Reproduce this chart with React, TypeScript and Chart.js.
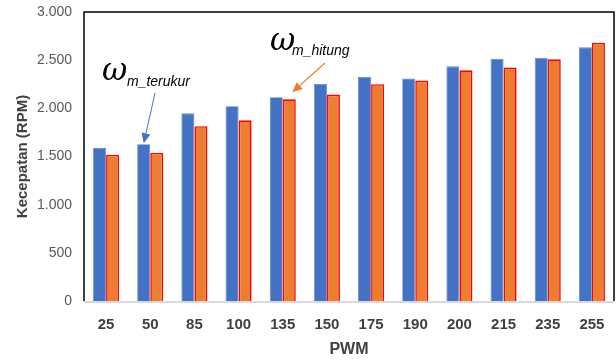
import React, { useEffect, useRef } from "react";
import { Chart, registerables } from "chart.js";

Chart.register(...registerables);

const categories = ["25", "50", "85", "100", "135", "150", "175", "190", "200", "215", "235", "255"];
const terukur = [1590, 1627, 1948, 2021, 2115, 2253, 2326, 2309, 2436, 2516, 2523, 2633];
const hitung = [1518, 1540, 1814, 1876, 2094, 2143, 2250, 2288, 2395, 2423, 2509, 2682];
const yTicks = [0, 500, 1000, 1500, 2000, 2500, 3000];

const fmt = (v: number) => String(v).replace(/\B(?=(\d{3})+(?!\d))/g, ".");

function drawArrow(ctx: CanvasRenderingContext2D, x1: number, y1: number, x2: number, y2: number, color: string, lw: number) {
  const ang = Math.atan2(y2 - y1, x2 - x1);
  const hl = 10, hw = 4.5;
  const bx = x2 - hl * Math.cos(ang), by = y2 - hl * Math.sin(ang);
  ctx.save();
  ctx.strokeStyle = color;
  ctx.fillStyle = color;
  ctx.lineWidth = lw;
  ctx.beginPath();
  ctx.moveTo(x1, y1);
  ctx.lineTo(bx, by);
  ctx.stroke();
  ctx.beginPath();
  ctx.moveTo(x2, y2);
  ctx.lineTo(bx + hw * Math.sin(ang), by - hw * Math.cos(ang));
  ctx.lineTo(bx - hw * Math.sin(ang), by + hw * Math.cos(ang));
  ctx.closePath();
  ctx.fill();
  ctx.restore();
}

const framePlugin = {
  id: "frame",
  afterDatasetsDraw(chart: any) {
    const { ctx, chartArea: a } = chart;
    ctx.save();
    ctx.strokeStyle = "#000000";
    ctx.lineWidth = 1.5;
    ctx.beginPath();
    ctx.moveTo(a.left, a.bottom);
    ctx.lineTo(a.left, a.top);
    ctx.lineTo(a.right, a.top);
    ctx.lineTo(a.right, a.bottom);
    ctx.stroke();
    ctx.strokeStyle = "#d9d9d9";
    ctx.lineWidth = 2;
    ctx.beginPath();
    ctx.moveTo(a.left, a.bottom + 1);
    ctx.lineTo(a.right, a.bottom + 1);
    ctx.stroke();

    // annotations
    const m0 = chart.getDatasetMeta(0).data[1];
    const m1 = chart.getDatasetMeta(1).data[4];
    drawArrow(ctx, 155, 93, m0.x, m0.y - 1, "#4472C4", 1);
    drawArrow(ctx, 325, 63, m1.x + 3, m1.y - 7, "#ED7D31", 1.3);

    ctx.fillStyle = "#000000";
    ctx.textBaseline = "alphabetic";
    ctx.textAlign = "left";
    ctx.font = "italic 31px 'DejaVu Serif'";
    ctx.fillText("\u03C9", 102, 80);
    ctx.fillText("\u03C9", 270, 50);
    ctx.font = "italic 14px 'Liberation Sans'";
    ctx.fillText("m_terukur", 127, 86);
    ctx.fillText("m_hitung", 292, 55);
    ctx.restore();
  },
};

export default function App() {
  const ref = useRef<HTMLCanvasElement>(null);
  useEffect(() => {
    if (!ref.current) return;
    const chart = new Chart(ref.current, {
      type: "bar",
      data: {
        labels: categories,
        datasets: [
          {
            label: "terukur",
            data: terukur,
            backgroundColor: "#4472C4",
            borderColor: "#5B86D0",
            borderWidth: 0.8,
          },
          {
            label: "hitung",
            data: hitung,
            backgroundColor: "#ED7D31",
            borderColor: "#FF0000",
            borderWidth: 1.6,
          },
        ],
      },
      options: {
        responsive: false,
        animation: false,
        devicePixelRatio: 1,
        layout: { padding: { left: 0, top: 12, right: 2, bottom: 0 } },
        datasets: { bar: { categoryPercentage: 0.59, barPercentage: 1 } },
        plugins: { legend: { display: false }, tooltip: { enabled: false } },
        scales: {
          x: {
            grid: { display: false },
            border: { display: false },
            ticks: {
              color: "#404040",
              font: { family: "'Liberation Sans'", size: 15, weight: "bold" },
              padding: 7,
              maxRotation: 0,
            },
            title: {
              display: true,
              text: "PWM",
              color: "#404040",
              font: { family: "'Liberation Sans'", size: 16, weight: "bold" },
              padding: { top: 0, bottom: 3 },
            },
            afterFit: (s: any) => {
              s.height = 61;
              s.paddingLeft = 0;
              s.paddingRight = 0;
            },
          },
          y: {
            min: 0,
            max: 3000,
            grid: { display: false, drawTicks: false },
            border: { display: false },
            afterBuildTicks: (s: any) => {
              s.ticks = yTicks.map((v) => ({ value: v }));
            },
            ticks: {
              color: "#595959",
              font: { family: "'Liberation Sans'", size: 14 },
              padding: 12,
              callback: (v: any) => fmt(Number(v)),
            },
            title: {
              display: true,
              text: "Kecepatan (RPM)",
              color: "#404040",
              font: { family: "'Liberation Sans'", size: 15, weight: "bold" },
              padding: { top: 14, bottom: 0 },
            },
            afterFit: (s: any) => {
              s.width = 84;
              s.paddingTop = 0;
              s.paddingBottom = 0;
            },
          },
        },
      },
      plugins: [framePlugin],
    });
    return () => chart.destroy();
  }, []);
  return (
    <div style={{ position: "fixed", left: 0, top: 0, width: 616, height: 362, background: "#fff" }}>
      <canvas ref={ref} width={616} height={362} />
    </div>
  );
}
